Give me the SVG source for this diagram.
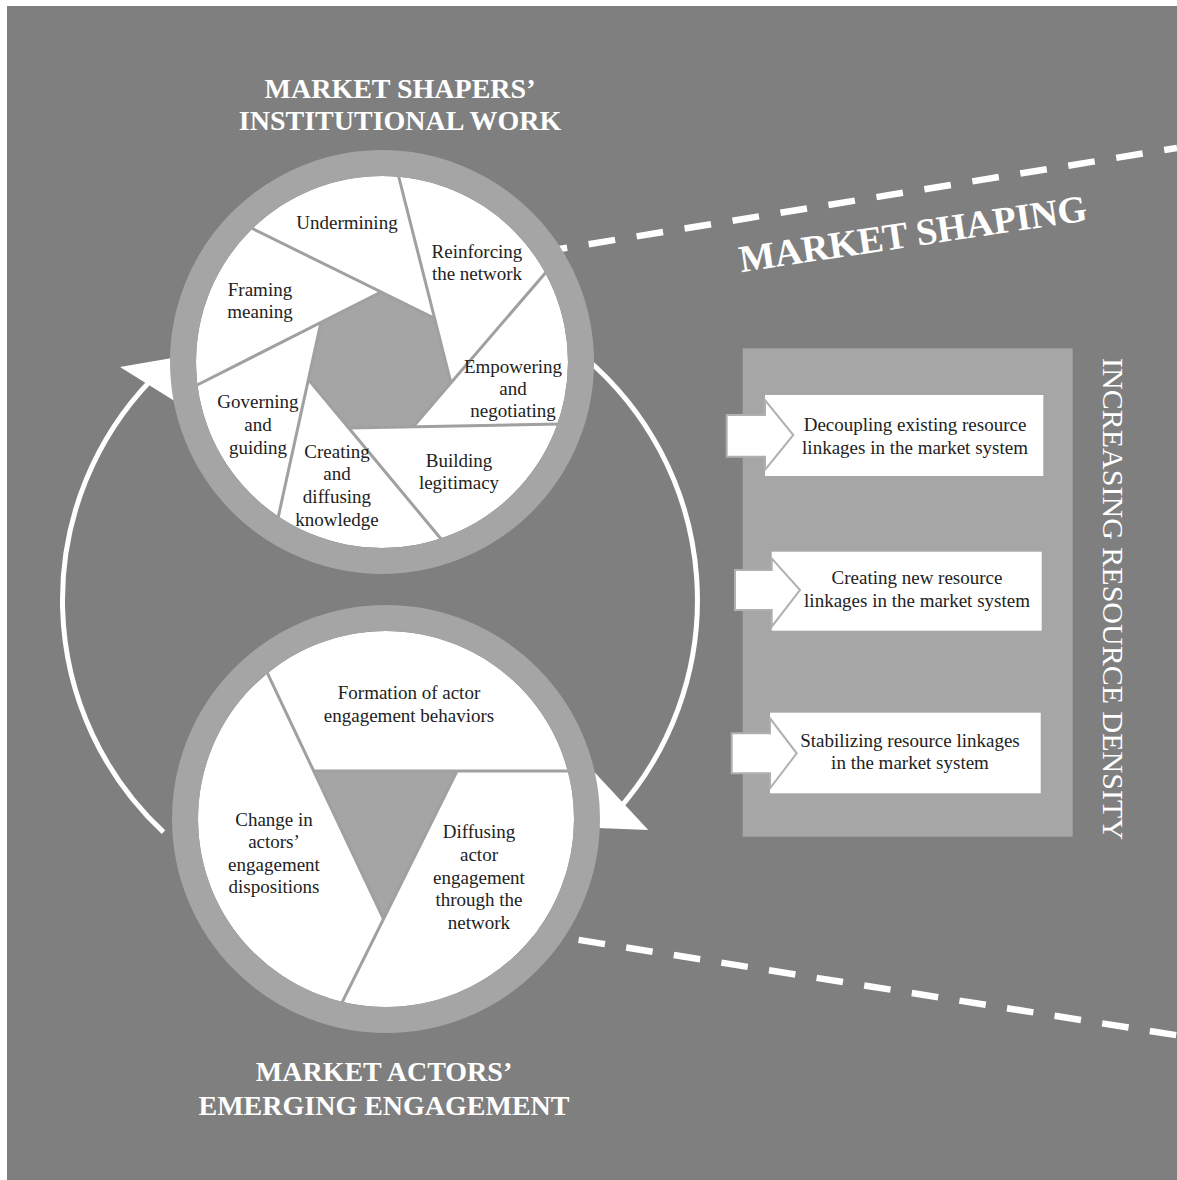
<svg xmlns="http://www.w3.org/2000/svg" width="1177" height="1180" viewBox="0 0 1177 1180">
<style>
.t{font-family:"Liberation Serif","Times New Roman",serif;font-size:19px;fill:#222;text-anchor:middle}
.h{font-family:"Liberation Serif","Times New Roman",serif;font-weight:bold;font-size:28px;fill:#fff;text-anchor:middle}
.div{stroke:#a0a0a0;stroke-width:3;fill:none}
.ring{fill:none;stroke:#a5a5a5;stroke-width:26}
.core{fill:#a5a5a5}
.dash{stroke:#fff;stroke-width:6.5;fill:none}
.arc{stroke:#fff;stroke-width:5;fill:none}
.head{fill:#fff}
.blk{fill:#fff;stroke:#b0b0b0;stroke-width:2}
</style>
<rect width="1177" height="1180" fill="#fff"/>
<rect x="7" y="6" width="1170" height="1174" fill="#7f7f7f"/>

<g id="connectors">
  <path class="dash" d="M540.7,252.1 L1177,147.9" stroke-dasharray="26.8 21.8"/>
  <path class="dash" d="M531,932.3 L1177,1035.3" stroke-dasharray="26.7 21.5"/>
  <path class="arc" d="M163.5,832.2 A317.5,317.5 0 0 1 151.6,379.4"/>
  <polygon class="head" points="120,367 185,355.7 185,407.6"/>
  <path class="arc" d="M584.1,356.8 A317.5,317.5 0 0 1 615.9,812.4"/>
  <polygon class="head" points="648.3,830 585,762 585,827.4"/>
</g>

<g id="market-shapers">
  <circle cx="382" cy="362" r="186" fill="#fff"/>
  <polygon class="core" points="381,292 434,318 451,383 413,427 349,428 308,379 321,322"/>
  <line class="div" x1="243.2" y1="224.1" x2="434" y2="318"/>
  <line class="div" x1="394.6" y1="160.5" x2="451" y2="383"/>
  <line class="div" x1="554.8" y1="261.9" x2="413" y2="427"/>
  <line class="div" x1="573.3" y1="423.7" x2="349" y2="428"/>
  <line class="div" x1="452.9" y1="553.2" x2="308" y2="379"/>
  <line class="div" x1="275.1" y1="531.4" x2="321" y2="322"/>
  <line class="div" x1="188.3" y1="389.5" x2="381" y2="292"/>
  <circle class="ring" cx="382" cy="362" r="199"/>
  <text class="t" x="347" y="229">Undermining</text>
  <text class="t" x="477" y="258">Reinforcing</text>
  <text class="t" x="477" y="280">the network</text>
  <text class="t" x="260" y="296">Framing</text>
  <text class="t" x="260" y="318">meaning</text>
  <text class="t" x="513" y="373">Empowering</text>
  <text class="t" x="513" y="395">and</text>
  <text class="t" x="513" y="417">negotiating</text>
  <text class="t" x="258" y="408">Governing</text>
  <text class="t" x="258" y="431">and</text>
  <text class="t" x="258" y="454">guiding</text>
  <text class="t" x="337" y="458">Creating</text>
  <text class="t" x="337" y="480">and</text>
  <text class="t" x="337" y="503">diffusing</text>
  <text class="t" x="337" y="526">knowledge</text>
  <text class="t" x="459" y="467">Building</text>
  <text class="t" x="459" y="489">legitimacy</text>
</g>

<g id="market-actors">
  <circle cx="386" cy="819" r="188" fill="#fff"/>
  <polygon class="core" points="313.6,771 457,771 383.6,919"/>
  <line class="div" x1="258.2" y1="653.6" x2="383.6" y2="919"/>
  <line class="div" x1="575" y1="771" x2="313.6" y2="771"/>
  <line class="div" x1="335" y1="1016.7" x2="457" y2="771"/>
  <circle class="ring" cx="386" cy="819" r="201"/>
  <text class="t" x="409" y="699">Formation of actor</text>
  <text class="t" x="409" y="722">engagement behaviors</text>
  <text class="t" x="274" y="826">Change in</text>
  <text class="t" x="274" y="848">actors’</text>
  <text class="t" x="274" y="871">engagement</text>
  <text class="t" x="274" y="893">dispositions</text>
  <text class="t" x="479" y="838">Diffusing</text>
  <text class="t" x="479" y="861">actor</text>
  <text class="t" x="479" y="884">engagement</text>
  <text class="t" x="479" y="906">through the</text>
  <text class="t" x="479" y="929">network</text>
</g>

<g id="titles">
  <text class="h" x="400" y="98">MARKET SHAPERS’</text>
  <text class="h" x="400" y="130">INSTITUTIONAL WORK</text>
  <text class="h" x="384" y="1081">MARKET ACTORS’</text>
  <text class="h" x="384" y="1115">EMERGING ENGAGEMENT</text>
  <text class="h" transform="translate(914.8,246.2) rotate(-8.5)" x="0" y="0" style="font-size:38px" textLength="351">MARKET SHAPING</text>
  <text class="h" transform="translate(1102.5,599) rotate(90)" x="0" y="0" style="font-weight:normal;font-size:30px" textLength="482">INCREASING RESOURCE DENSITY</text>
</g>

<g id="resource-panel">
  <rect x="742.7" y="348.3" width="330" height="488.4" fill="#a6a6a6"/>
</g>
<g id="decoupling">
  <rect x="765" y="395" width="278.3" height="81" fill="#fff"/>
  <polygon class="blk" points="726.7,415 765,415 765,400 793.3,435 765,470 765,456.7 726.7,456.7"/>
  <text class="t" x="915" y="431">Decoupling existing resource</text>
  <text class="t" x="915" y="454">linkages in the market system</text>
</g>
<g id="creating">
  <rect x="771.7" y="551.7" width="270" height="79" fill="#fff"/>
  <polygon class="blk" points="735,570 771.7,570 771.7,558.3 800,590 771.7,626.7 771.7,610 735,610"/>
  <text class="t" x="917" y="584">Creating new resource</text>
  <text class="t" x="917" y="607">linkages in the market system</text>
</g>
<g id="stabilizing">
  <rect x="770" y="712.7" width="270.7" height="80.6" fill="#fff"/>
  <polygon class="blk" points="731.7,733.3 770,733.3 770,718.3 796.7,753.3 770,788.3 770,773.3 731.7,773.3"/>
  <text class="t" x="910" y="747">Stabilizing resource linkages</text>
  <text class="t" x="910" y="769">in the market system</text>
</g>
</svg>
